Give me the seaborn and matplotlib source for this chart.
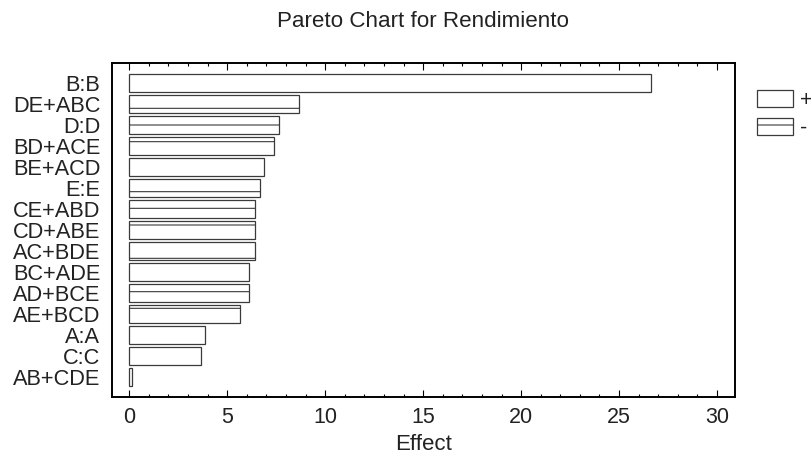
import matplotlib
matplotlib.use("Agg")
import matplotlib.pyplot as plt
from matplotlib.patches import Patch
from matplotlib.ticker import MultipleLocator
import pandas as pd
import seaborn as sns

# Standardized effects, sorted from largest to smallest
terms = ["B:B", "DE+ABC", "D:D", "BD+ACE", "BE+ACD", "E:E", "CE+ABD", "CD+ABE",
         "AC+BDE", "BC+ADE", "AD+BCE", "AE+BCD", "A:A", "C:C", "AB+CDE"]
effects = [26.63, 8.64, 7.65, 7.38, 6.89, 6.67, 6.40, 6.40,
           6.41, 6.12, 6.12, 5.63, 3.88, 3.64, 0.14]
signs = ["+", "-", "-", "-", "+", "-", "-", "-",
         "-", "+", "-", "-", "+", "+", "+"]

df = pd.DataFrame({"term": terms, "effect": effects, "sign": signs})

sns.set_theme(style="white")
plt.rcParams["font.family"] = ["Liberation Sans", "DejaVu Sans"]
plt.rcParams["hatch.linewidth"] = 0.8
plt.rcParams["hatch.color"] = "#3a3a3a"

text_color = "#222222"
edge_color = "#3a3a3a"

fig = plt.figure(figsize=(8.12, 4.59), dpi=100)
ax = fig.add_axes([0.1379, 0.1357, 0.7669, 0.7277])

sns.barplot(data=df, x="effect", y="term", orient="h", color="white",
            edgecolor=edge_color, linewidth=0.9, width=0.85, ax=ax,
            saturation=1)

# Negative effects are drawn with a horizontal-line fill
for patch, s in zip(ax.patches, df["sign"]):
    patch.set_facecolor("white")
    patch.set_edgecolor(edge_color)
    if s == "-":
        patch.set_hatch("-")

ax.set_xlim(-0.88, 30.9)
ax.set_ylim(len(terms) - 1 + 0.94, -0.98)

ax.xaxis.set_major_locator(MultipleLocator(5))
ax.xaxis.set_minor_locator(MultipleLocator(1))
ax.tick_params(axis="x", which="both", direction="in", top=True, bottom=True,
               colors="black", labelcolor=text_color, labelsize=15.5, pad=7.5)
ax.tick_params(axis="x", which="major", length=5, width=0.8)
ax.tick_params(axis="x", which="minor", length=2.5, width=0.8)
ax.tick_params(axis="y", length=0, pad=8.5, labelsize=15.7, labelcolor=text_color)

for sp in ax.spines.values():
    sp.set_visible(True)
    sp.set_color("black")
    sp.set_linewidth(1.4)

ax.set_ylabel("")
ax.set_xlabel("Effect", fontsize=16, color=text_color, labelpad=4.5)

fig.text(423 / 812, 1 - 27.3 / 459, "Pareto Chart for Rendimiento",
         ha="center", va="baseline", fontsize=16.1, color=text_color)

handles = [Patch(facecolor="white", edgecolor=edge_color, linewidth=0.9, label="+"),
           Patch(facecolor="white", edgecolor=edge_color, linewidth=0.9, hatch="-", label="-")]
fig.legend(handles=handles, loc="upper left",
           bbox_to_anchor=(757 / 812, 1 - 90 / 459), frameon=False,
           fontsize=15.5, handlelength=1.68, handleheight=0.8,
           labelspacing=0.33, handletextpad=0.33, borderpad=0,
           borderaxespad=0, labelcolor=text_color)

fig.savefig("out.png", dpi=100)
